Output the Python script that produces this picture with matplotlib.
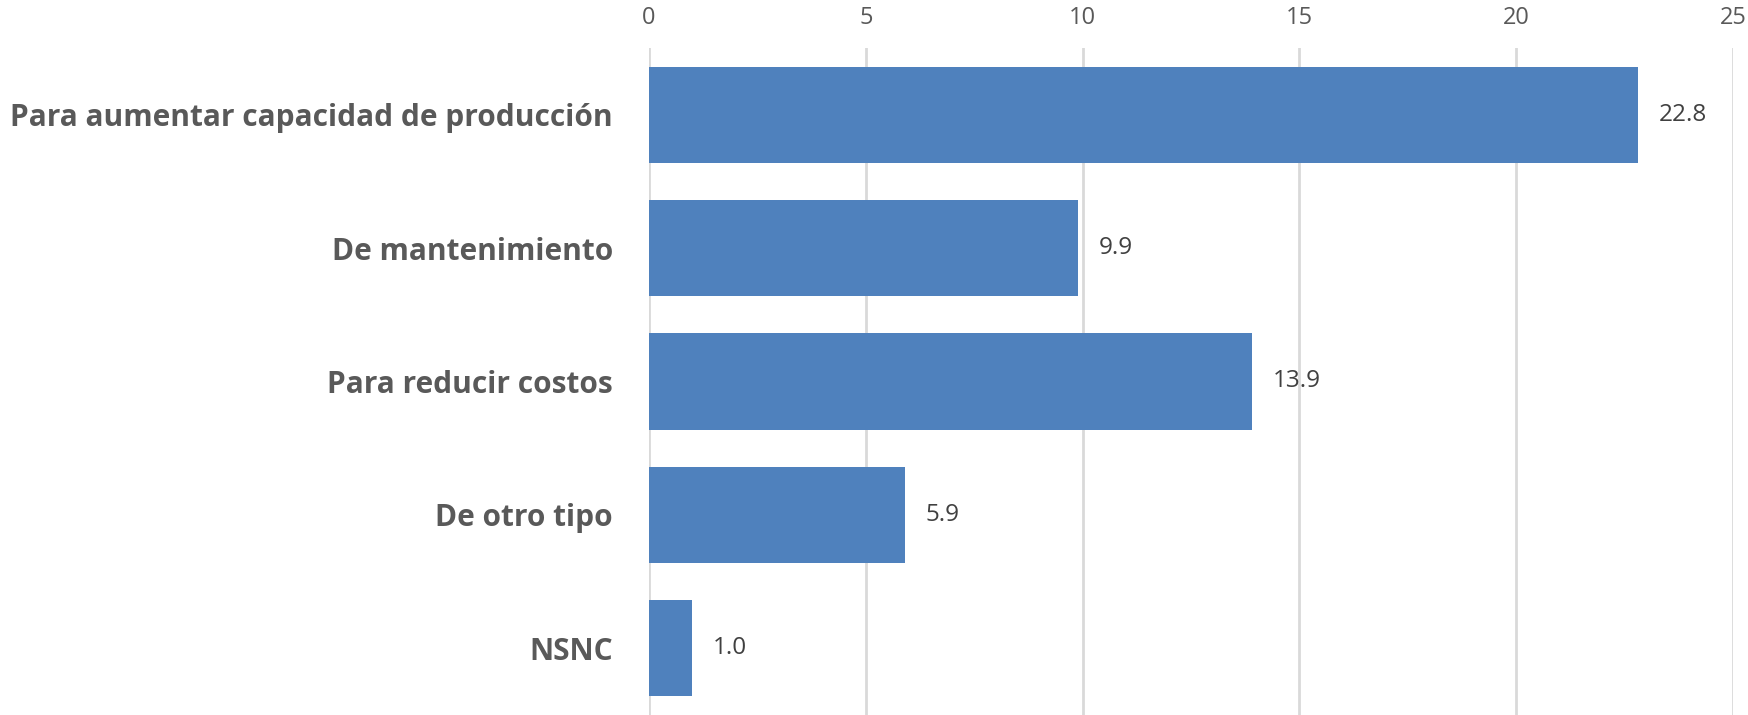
import numpy as np
import matplotlib.pyplot as plt

categories = ["Para aumentar capacidad de producción", "De mantenimiento",
              "Para reducir costos", "De otro tipo", "NSNC"]
values = [22.8, 9.9, 13.9, 5.9, 1.0]
ticks = [0, 5, 10, 15, 20, 25]

plt.rcParams['font.family'] = ['Open Sans', 'DejaVu Sans']

fig = plt.figure(figsize=(17.48, 7.15), dpi=100)
ax = fig.add_axes([649 / 1748, 0, (1733 - 649) / 1748, 1 - 48 / 715])

y = np.arange(len(categories))
ax.barh(y, values, height=0.72, color='#4F81BD', zorder=3)
for yi, v in zip(y, values):
    ax.text(v + 0.48, yi, f"{v:.1f}", va='center', ha='left',
            fontsize=17.5, color='#404040')

ax.set_xlim(0, 25)
ax.set_ylim(len(categories) - 0.5, -0.5)
ax.set_xticks(ticks)
ax.set_yticks(y)
ax.set_yticklabels(categories, fontsize=21.5, fontweight='bold', color='#595959')
ax.xaxis.tick_top()
ax.tick_params(axis='x', length=0, labelsize=17, labelcolor='#595959', pad=13)
ax.tick_params(axis='y', length=0, pad=26)
ax.grid(axis='x', color='#d9d9d9', linewidth=2, zorder=0)
for s in ax.spines.values():
    s.set_visible(False)

fig.savefig('out.png', dpi=100)
